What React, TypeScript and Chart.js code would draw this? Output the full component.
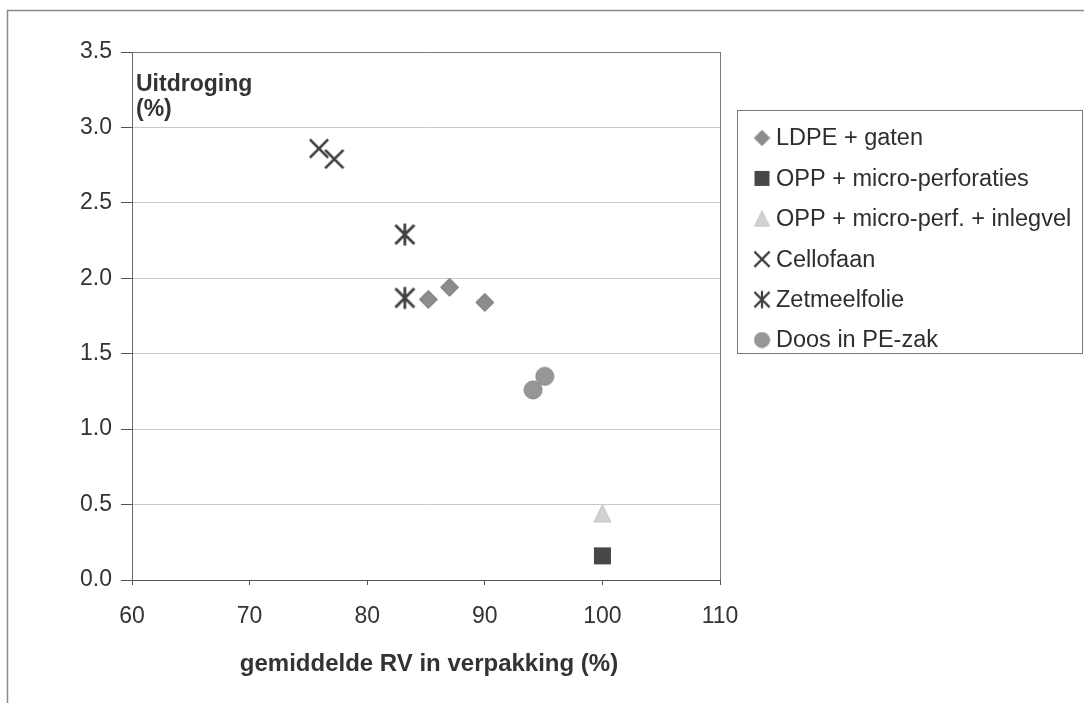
import React, { useEffect, useRef } from "react";
import { Chart, registerables } from "chart.js";

Chart.register(...registerables);

// Relative humidity in the package (%) and resulting moisture loss (%) per packaging type
const ldpeRV = [85.2, 87, 90];
const ldpeUit = [1.86, 1.94, 1.84];
const oppRV = [100];
const oppUit = [0.16];
const oppInlegRV = [100];
const oppInlegUit = [0.44];
const celloRV = [75.9, 77.2];
const celloUit = [2.86, 2.79];
const zetRV = [83.2, 83.2];
const zetUit = [2.29, 1.87];
const doosRV = [94.1, 95.1];
const doosUit = [1.26, 1.35];

const seriesNames = [
  "LDPE + gaten",
  "OPP + micro-perforaties",
  "OPP + micro-perf. + inlegvel",
  "Cellofaan",
  "Zetmeelfolie",
  "Doos in PE-zak",
];

const xTicks = [60, 70, 80, 90, 100, 110];
const yTicks = [0, 0.5, 1.0, 1.5, 2.0, 2.5, 3.0, 3.5];

const FONT = "'Liberation Sans', Arial, Helvetica, sans-serif";

type Kind = "diamond" | "square" | "triangle" | "x" | "asterisk" | "circle";

function makeMarker(kind: Kind, size: number): HTMLCanvasElement {
  const c = document.createElement("canvas");
  c.width = size;
  c.height = size;
  const g = c.getContext("2d")!;
  const m = size / 2;
  g.lineJoin = "round";
  if (kind === "diamond") {
    g.beginPath();
    g.moveTo(m, 1);
    g.lineTo(size - 1, m);
    g.lineTo(m, size - 1);
    g.lineTo(1, m);
    g.closePath();
    g.fillStyle = "#8c8c8c";
    g.fill();
    g.strokeStyle = "#6e6e6e";
    g.lineWidth = 1;
    g.stroke();
  } else if (kind === "square") {
    g.fillStyle = "#474747";
    g.fillRect(1, 1, size - 2, size - 2);
  } else if (kind === "triangle") {
    g.beginPath();
    g.moveTo(m, 0.5);
    g.lineTo(size - 1, size - 1);
    g.lineTo(1, size - 1);
    g.closePath();
    g.fillStyle = "#d2d2d2";
    g.fill();
    g.strokeStyle = "#c4c4c4";
    g.lineWidth = 1;
    g.stroke();
  } else if (kind === "x" || kind === "asterisk") {
    g.strokeStyle = "#3f3f3f";
    g.lineWidth = Math.max(1.5, size / 9);
    g.lineCap = "butt";
    const p = size * 0.12;
    g.beginPath();
    g.moveTo(p, p);
    g.lineTo(size - p, size - p);
    g.moveTo(size - p, p);
    g.lineTo(p, size - p);
    if (kind === "asterisk") {
      g.moveTo(m, p * 0.5);
      g.lineTo(m, size - p * 0.5);
    }
    g.stroke();
  } else {
    g.beginPath();
    g.arc(m, m, m - 1, 0, Math.PI * 2);
    g.fillStyle = "#979797";
    g.fill();
    g.strokeStyle = "#858585";
    g.lineWidth = 1;
    g.stroke();
  }
  return c;
}

export default function App() {
  const ref = useRef<HTMLCanvasElement>(null);

  useEffect(() => {
    document.body.style.margin = "0";
    const kinds: Kind[] = ["diamond", "square", "triangle", "x", "asterisk", "circle"];
    const plotSizes = [20, 19, 19, 24, 25, 20];
    const markers = kinds.map((k, i) => makeMarker(k, plotSizes[i]));
    const legendMarkers = kinds.map((k) => makeMarker(k, k === "x" || k === "asterisk" ? 20 : 17));

    const pts = (xs: number[], ys: number[]) => xs.map((x, i) => ({ x, y: ys[i] }));
    const seriesData = [
      pts(ldpeRV, ldpeUit),
      pts(oppRV, oppUit),
      pts(oppInlegRV, oppInlegUit),
      pts(celloRV, celloUit),
      pts(zetRV, zetUit),
      pts(doosRV, doosUit),
    ];

    const decor = {
      id: "decor",
      beforeDraw(chart: any) {
        const ctx = chart.ctx;
        ctx.save();
        ctx.fillStyle = "#ffffff";
        ctx.fillRect(0, 0, chart.width, chart.height);
        // outer frame
        ctx.strokeStyle = "#8a8a8a";
        ctx.lineWidth = 1.5;
        ctx.beginPath();
        ctx.moveTo(7.5, chart.height);
        ctx.lineTo(7.5, 10.5);
        ctx.lineTo(chart.width, 10.5);
        ctx.stroke();
        ctx.restore();
      },
      afterDraw(chart: any) {
        const ctx = chart.ctx;
        const a = chart.chartArea;
        ctx.save();
        // right border of the plot area
        ctx.strokeStyle = "#7a7a7a";
        ctx.lineWidth = 1;
        ctx.beginPath();
        ctx.moveTo(a.right + 0.5, a.top);
        ctx.lineTo(a.right + 0.5, a.bottom);
        ctx.stroke();

        // axis titles
        ctx.fillStyle = "#333333";
        ctx.font = `bold 23px ${FONT}`;
        ctx.textBaseline = "middle";
        ctx.textAlign = "left";
        ctx.fillText("Uitdroging", a.left + 4, a.top + 33);
        ctx.fillText("(%)", a.left + 4, a.top + 58);
        ctx.font = `bold 24px ${FONT}`;
        ctx.textAlign = "center";
        ctx.fillText("gemiddelde RV in verpakking (%)", 429, a.bottom + 84);

        // legend
        const lx = 737.5, ly = 110.5, lw = 345, lh = 243;
        ctx.strokeStyle = "#777777";
        ctx.lineWidth = 1;
        ctx.strokeRect(lx, ly, lw, lh);
        ctx.font = `23.5px ${FONT}`;
        ctx.textAlign = "left";
        ctx.fillStyle = "#2e2e2e";
        seriesNames.forEach((name, i) => {
          const cy = 138 + i * 40.4;
          const mk = legendMarkers[i];
          ctx.drawImage(mk, 762 - mk.width / 2, cy - mk.height / 2);
          ctx.fillText(name, 776, cy + 1);
        });
        ctx.restore();
      },
    };

    const chart = new Chart(ref.current!, {
      type: "scatter",
      data: {
        datasets: seriesNames.map((label, i) => ({
          label,
          data: seriesData[i],
          pointStyle: markers[i] as any,
          backgroundColor: "#888",
          borderColor: "#888",
        })),
      },
      options: {
        animation: false,
        responsive: false,
        layout: { padding: { left: 0, top: 52, right: 364, bottom: 0 } },
        plugins: { legend: { display: false }, tooltip: { enabled: false } },
        scales: {
          x: {
            type: "linear",
            min: 60,
            max: 110,
            afterBuildTicks: (s: any) => {
              s.ticks = xTicks.map((v) => ({ value: v }));
            },
            afterFit: (s: any) => {
              s.height = 123;
            },
            ticks: {
              color: "#333",
              font: { family: FONT, size: 23 },
              padding: 18,
            },
            grid: {
              drawOnChartArea: false,
              drawTicks: true,
              tickLength: 5,
              color: "#555",
            },
            border: { color: "#555", width: 1 },
          },
          y: {
            type: "linear",
            min: 0,
            max: 3.5,
            afterBuildTicks: (s: any) => {
              s.ticks = yTicks.map((v) => ({ value: v }));
            },
            afterFit: (s: any) => {
              s.width = 132;
            },
            ticks: {
              color: "#333",
              font: { family: FONT, size: 23 },
              padding: 9,
              callback: (v: any) => Number(v).toFixed(1),
            },
            grid: {
              drawTicks: true,
              tickLength: 11,
              color: (c: any) =>
                c.tick && c.tick.value === 3.5 ? "#7a7a7a" : c.tick && c.tick.value === 0 ? "#555" : "#cacaca",
              tickColor: "#555",
            },
            border: { color: "#666", width: 1 },
          },
        },
      },
      plugins: [decor],
    });
    return () => chart.destroy();
  }, []);

  return (
    <div style={{ position: "relative", width: 1084, height: 703 }}>
      <canvas ref={ref} width={1084} height={703} style={{ display: "block" }} />
    </div>
  );
}
